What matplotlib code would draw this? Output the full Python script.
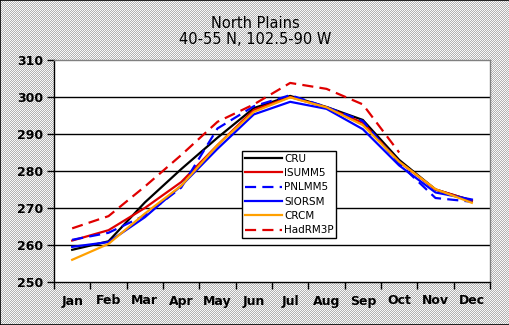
import numpy as np
import matplotlib
matplotlib.use("Agg")
import matplotlib.pyplot as plt
from matplotlib.patches import Rectangle

months = ["Jan", "Feb", "Mar", "Apr", "May", "Jun", "Jul", "Aug", "Sep", "Oct", "Nov", "Dec"]

cru     = [258.7, 261.0, 271.5, 280.5, 289.0, 297.0, 300.3, 297.3, 293.8, 283.0, 275.0, 272.0]
isumm5  = [261.2, 264.0, 270.0, 277.0, 287.0, 296.5, 300.0, 297.2, 293.0, 282.5, 275.0, 272.0]
pnlmm5  = [261.4, 263.3, 268.0, 275.5, 291.5, 297.5, 300.5, 297.3, 293.5, 282.0, 272.7, 271.7]
siorsm  = [259.5, 260.8, 267.5, 276.0, 286.0, 295.3, 298.7, 296.8, 291.3, 281.5, 274.2, 272.3]
crcm    = [256.0, 260.3, 268.5, 276.0, 287.0, 296.0, 299.9, 297.2, 292.4, 282.5, 275.1, 271.4]
hadrm3p = [264.5, 267.8, 275.8, 284.3, 293.3, 298.0, 303.8, 302.2, 298.0, 285.0]

yticks = [250, 260, 270, 280, 290, 300, 310]

W, H = 510, 325
fig = plt.figure(figsize=(W / 100, H / 100), dpi=100)

# checkered grey background
ii, jj = np.indices((H, W))
chk = ((ii + jj) % 2).astype(float)
bg = np.where(chk[..., None] > 0.5, np.array([0.70, 0.70, 0.70]), np.array([0.98, 0.98, 0.98]))
fig.figimage(bg, 0, 0, zorder=-10)
fig.patches.append(Rectangle((0, 0), 1, 1, transform=fig.transFigure, fill=False,
                             edgecolor="black", linewidth=1.2, zorder=10))

L, R, T, B = 54, 490, 60, 282
ax = fig.add_axes([L / W, 1 - B / H, (R - L) / W, (B - T) / H])
ax.set_facecolor("white")

x = np.arange(len(months))
lw = 1.6
ax.plot(x, cru, color="black", lw=lw, label="CRU", zorder=3)
ax.plot(x, isumm5, color="#e00000", lw=lw, label="ISUMM5", zorder=3)
ax.plot(x, pnlmm5, color="#0000ff", lw=lw, ls=(0, (5, 2.8)), label="PNLMM5", zorder=3)
ax.plot(x, siorsm, color="#0000ff", lw=lw, label="SIORSM", zorder=3)
ax.plot(x, crcm, color="#ffa000", lw=lw, label="CRCM", zorder=3)
ax.plot(x[:len(hadrm3p)], hadrm3p, color="#e00000", lw=lw, ls=(0, (5, 2.8)), label="HadRM3P", zorder=3)

ax.set_xlim(-0.5, 11.5)
ax.set_ylim(250, 310)
ax.set_yticks(yticks)
ax.set_yticklabels([str(v) for v in yticks], fontsize=9, fontweight="bold")
ax.set_xticks(x)
ax.set_xticklabels(months, fontsize=9, fontweight="bold")
ax.set_xticks(np.arange(-0.5, 12.0, 1.0), minor=True)
ax.tick_params(axis="x", which="major", length=0, pad=9)
ax.tick_params(axis="x", which="minor", length=5, width=1, direction="out")
ax.tick_params(axis="y", length=5, width=1, direction="out", pad=3)

for v in yticks[1:-1]:
    ax.axhline(v, color="black", lw=1, zorder=1)

for s in ["left", "bottom"]:
    ax.spines[s].set_color("black")
    ax.spines[s].set_linewidth(1)
for s in ["top", "right"]:
    ax.spines[s].set_color("#808080")
    ax.spines[s].set_linewidth(1)

fig.text(255 / W, 1 - 23 / H, "North Plains", ha="center", va="center", fontsize=10.5)
fig.text(255 / W, 1 - 40 / H, "40-55 N, 102.5-90 W", ha="center", va="center", fontsize=10.5)

leg = ax.legend(loc="upper left", bbox_to_anchor=(242 / W, 1 - 151 / H),
                bbox_transform=fig.transFigure, borderaxespad=0, fancybox=False,
                edgecolor="black", framealpha=1, fontsize=7.5, handlelength=3.6,
                handletextpad=0.2, borderpad=0.25, labelspacing=0.42)
leg.get_frame().set_linewidth(1)

fig.savefig("out.png", dpi=100)
